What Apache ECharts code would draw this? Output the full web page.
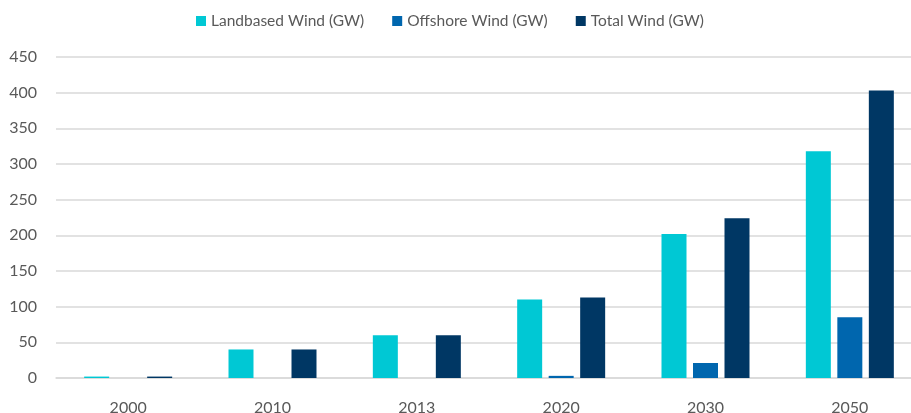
<!DOCTYPE html>
<html>
<head>
<meta charset="utf-8">
<script src="https://cdn.jsdelivr.net/npm/echarts@6/dist/echarts.min.js"></script>
<style>
  html, body { margin: 0; padding: 0; background: #fff; }
  #chart { width: 911px; height: 413px; }
</style>
</head>
<body>
<div id="chart"></div>
<script>
var years = ['2000', '2010', '2013', '2020', '2030', '2050'];
var landbased = [2, 40, 60, 110, 202, 318];
var offshore = [0, 0, 0, 3, 21, 85];
var total = [2, 40, 60, 113, 224, 403];
var seriesNames = ['Landbased Wind (GW)', 'Offshore Wind (GW)', 'Total Wind (GW)'];

var txtColor = '#595959';
var font = 'Lato';

var myChart = echarts.init(document.getElementById('chart'));

function bar(name, data, color) {
    return {
        name: name,
        type: 'bar',
        barWidth: 25,
        barGap: '26%',
        itemStyle: { color: color },
        data: data
    };
}

var option = {
    color: ['#00c8d4', '#0066ae', '#003764'],
    textStyle: { fontFamily: font },
    legend: {
        top: 8,
        left: 191,
        itemWidth: 10,
        itemHeight: 10,
        itemGap: 28,
        icon: 'rect',
        textStyle: { color: txtColor, fontSize: 15.5, fontFamily: font },
        data: seriesNames
    },
    grid: {
        left: 56,
        width: 866,
        top: 57,
        height: 321,
        containLabel: false,
        outerBoundsMode: 'none'
    },
    xAxis: {
        type: 'category',
        data: years,
        axisLine: { lineStyle: { color: '#d9d9d9', width: 1.5 } },
        axisTick: { show: false },
        axisLabel: { color: txtColor, fontSize: 16, margin: 22, fontFamily: font }
    },
    yAxis: {
        type: 'value',
        min: 0,
        max: 450,
        interval: 50,
        axisLine: { show: false },
        axisTick: { show: false },
        axisLabel: { color: txtColor, fontSize: 16, margin: 19, fontFamily: font },
        splitLine: { lineStyle: { color: '#d9d9d9', width: 1.5 } }
    },
    series: [
        bar(seriesNames[0], landbased, '#00c8d4'),
        bar(seriesNames[1], offshore, '#0066ae'),
        bar(seriesNames[2], total, '#003764')
    ]
};
myChart.setOption(option);
</script>
</body>
</html>
